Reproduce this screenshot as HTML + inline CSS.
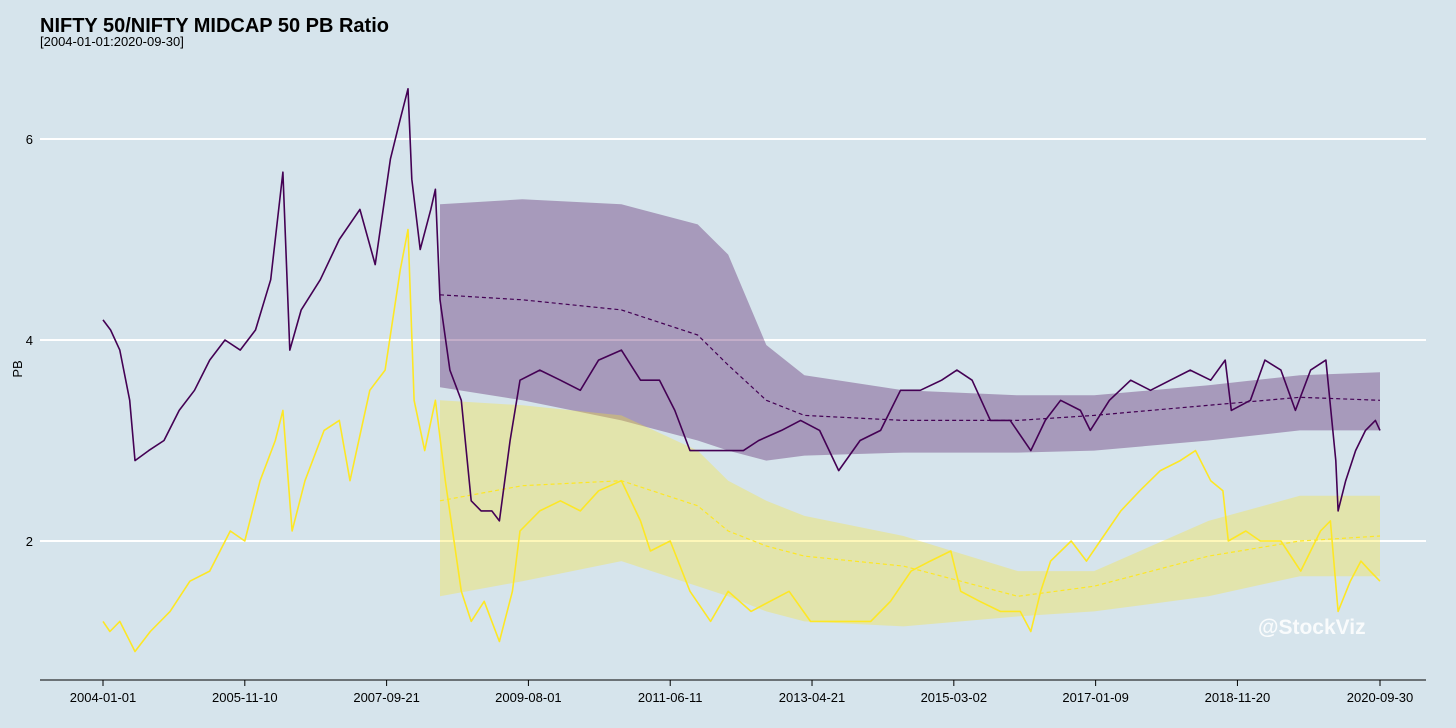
<!DOCTYPE html>
<html><head><meta charset="utf-8"><style>
html,body{margin:0;padding:0;background:#d6e4ec;}
svg{display:block;font-family:"Liberation Sans",sans-serif;}
</style></head><body>
<svg id="chart" width="1456" height="728" viewBox="0 0 1456 728">
<rect x="0" y="0" width="1456" height="728" fill="#d6e4ec"/>
<text x="40" y="32" font-size="20" font-weight="bold" fill="#000">NIFTY 50/NIFTY MIDCAP 50 PB Ratio</text>
<text x="40" y="46" font-size="13" fill="#000">[2004-01-01:2020-09-30]</text>
<text transform="translate(22,369) rotate(-90)" text-anchor="middle" font-size="13" fill="#000">PB</text>
<text x="1258" y="634" font-size="21" font-weight="bold" fill="#ffffff" fill-opacity="0.85">@StockViz</text>
<g id="grid"></g><g id="bands"></g><g id="lines"></g><g id="axis"></g>
</svg>
<script>
const yTicks=[2,4,6];
const xTickLabels=["2004-01-01","2005-11-10","2007-09-21","2009-08-01","2011-06-11","2013-04-21","2015-03-02","2017-01-09","2018-11-20","2020-09-30"];
const xTickYears=[0,1.86,3.72,5.58,7.44,9.3,11.16,13.02,14.88,16.75];
const n50Years=[0,0.1,0.22,0.35,0.42,0.6,0.8,1.0,1.2,1.4,1.6,1.8,2.0,2.2,2.36,2.45,2.6,2.85,3.1,3.37,3.57,3.77,3.9,4.0,4.05,4.16,4.3,4.36,4.42,4.55,4.7,4.83,4.96,5.1,5.2,5.34,5.47,5.73,6.0,6.26,6.5,6.8,7.05,7.3,7.5,7.7,7.97,8.2,8.4,8.6,8.9,9.15,9.4,9.65,9.93,10.2,10.46,10.72,11.0,11.2,11.4,11.64,11.9,12.17,12.36,12.56,12.82,12.95,13.2,13.48,13.74,14.0,14.26,14.53,14.72,14.8,15.05,15.24,15.45,15.64,15.84,16.04,16.17,16.2,16.3,16.43,16.56,16.69,16.75];
const n50Values=[4.2,4.1,3.9,3.4,2.8,2.9,3.0,3.3,3.5,3.8,4.0,3.9,4.1,4.6,5.67,3.9,4.3,4.6,5.0,5.3,4.75,5.8,6.2,6.5,5.6,4.9,5.3,5.5,4.4,3.7,3.4,2.4,2.3,2.3,2.2,3.0,3.6,3.7,3.6,3.5,3.8,3.9,3.6,3.6,3.3,2.9,2.9,2.9,2.9,3.0,3.1,3.2,3.1,2.7,3.0,3.1,3.5,3.5,3.6,3.7,3.6,3.2,3.2,2.9,3.2,3.4,3.3,3.1,3.4,3.6,3.5,3.6,3.7,3.6,3.8,3.3,3.4,3.8,3.7,3.3,3.7,3.8,2.8,2.3,2.6,2.9,3.1,3.2,3.1];
const midYears=[0,0.09,0.22,0.42,0.62,0.88,1.14,1.4,1.67,1.86,2.06,2.26,2.36,2.48,2.65,2.9,3.1,3.24,3.5,3.7,3.9,4.0,4.08,4.22,4.36,4.49,4.7,4.83,5.0,5.2,5.37,5.47,5.73,6.0,6.26,6.5,6.8,7.05,7.18,7.44,7.7,7.97,8.2,8.5,8.75,9.0,9.28,9.54,9.8,10.07,10.33,10.6,10.85,11.12,11.25,11.5,11.77,12.03,12.17,12.3,12.43,12.7,12.9,13.08,13.35,13.6,13.87,14.13,14.33,14.53,14.69,14.76,14.99,15.18,15.45,15.71,15.97,16.1,16.2,16.36,16.5,16.62,16.75];
const midValues=[1.2,1.1,1.2,0.9,1.1,1.3,1.6,1.7,2.1,2.0,2.6,3.0,3.3,2.1,2.6,3.1,3.2,2.6,3.5,3.7,4.7,5.1,3.4,2.9,3.4,2.6,1.5,1.2,1.4,1.0,1.5,2.1,2.3,2.4,2.3,2.5,2.6,2.2,1.9,2.0,1.5,1.2,1.5,1.3,1.4,1.5,1.2,1.2,1.2,1.2,1.4,1.7,1.8,1.9,1.5,1.4,1.3,1.3,1.1,1.5,1.8,2.0,1.8,2.0,2.3,2.5,2.7,2.8,2.9,2.6,2.5,2.0,2.1,2.0,2.0,1.7,2.1,2.2,1.3,1.6,1.8,1.7,1.6];
const bandYears=[4.42,5.5,6.8,7.8,8.2,8.7,9.2,10.5,12.0,13.0,14.5,15.7,16.75];
const n50Upper=[5.35,5.4,5.35,5.15,4.85,3.95,3.65,3.5,3.45,3.45,3.55,3.65,3.68];
const n50Lower=[3.53,3.4,3.2,3.0,2.9,2.8,2.85,2.88,2.88,2.9,3.0,3.1,3.1];
const n50Mean=[4.45,4.4,4.3,4.05,3.75,3.4,3.25,3.2,3.2,3.25,3.35,3.43,3.4];
const midUpper=[3.4,3.35,3.25,2.9,2.6,2.4,2.25,2.05,1.7,1.7,2.2,2.45,2.45];
const midLower=[1.45,1.6,1.8,1.55,1.45,1.3,1.2,1.15,1.25,1.3,1.45,1.65,1.65];
const midMean=[2.4,2.55,2.6,2.35,2.1,1.95,1.85,1.75,1.45,1.55,1.85,2.0,2.05];

const NS="http://www.w3.org/2000/svg";
function xs(t){return 103+t*(1277/16.75);}
function ys(v){return 742-v*100.5;}
function mk(tag,parent,attrs){const e=document.createElementNS(NS,tag);for(const k in attrs)e.setAttribute(k,attrs[k]);document.getElementById(parent).appendChild(e);return e;}
function pts(xa,va){return xa.map((t,i)=>xs(t).toFixed(1)+","+ys(va[i]).toFixed(1)).join(" ");}

yTicks.forEach(v=>{
  const l=mk('line','grid',{x1:40,x2:1426,y1:ys(v),y2:ys(v),stroke:'#ffffff','stroke-width':2});
  
  
  const t=mk('text','grid',{x:33,y:ys(v)+5,'text-anchor':'end','font-size':13,fill:'#000'});
  t.textContent=v;
  
  
});

function band(up,lo,fill,name){
  const d="M"+pts(bandYears,up)+" L"+pts(bandYears.slice().reverse(),lo.slice().reverse())+" Z";
  const p=mk('path','bands',{d:d,fill:fill,stroke:'none'});
  
  
}
band(n50Upper,n50Lower,'rgba(68,1,84,0.32)','nifty50-band');
band(midUpper,midLower,'rgba(253,231,37,0.32)','midcap50-band');

function line(xa,va,col,w,dash,name){
  const a={points:pts(xa,va),fill:'none',stroke:col,'stroke-width':w,'stroke-linejoin':'round'};
  if(dash)a['stroke-dasharray']=dash;
  const p=mk('polyline','lines',a);
  
  
}
line(bandYears,n50Mean,'#440154',1.2,'4,3','nifty50-mean-line');
line(bandYears,midMean,'#fde725',1.2,'4,3','midcap50-mean-line');
line(midYears,midValues,'#fde725',1.6,null,'midcap50-pb-line');
line(n50Years,n50Values,'#440154',1.6,null,'nifty50-pb-line');

const ax=mk('line','axis',{x1:40,x2:1426,y1:680,y2:680,stroke:'#000','stroke-width':1});


xTickLabels.forEach((lab,i)=>{
  const x=xs(xTickYears[i]);
  const tk=mk('line','axis',{x1:x,x2:x,y1:680,y2:686,stroke:'#000','stroke-width':1});
  
  
  const t=mk('text','axis',{x:x,y:702,'text-anchor':'middle','font-size':13,fill:'#000'});
  t.textContent=lab;
  
  
});
</script>
</body></html>
